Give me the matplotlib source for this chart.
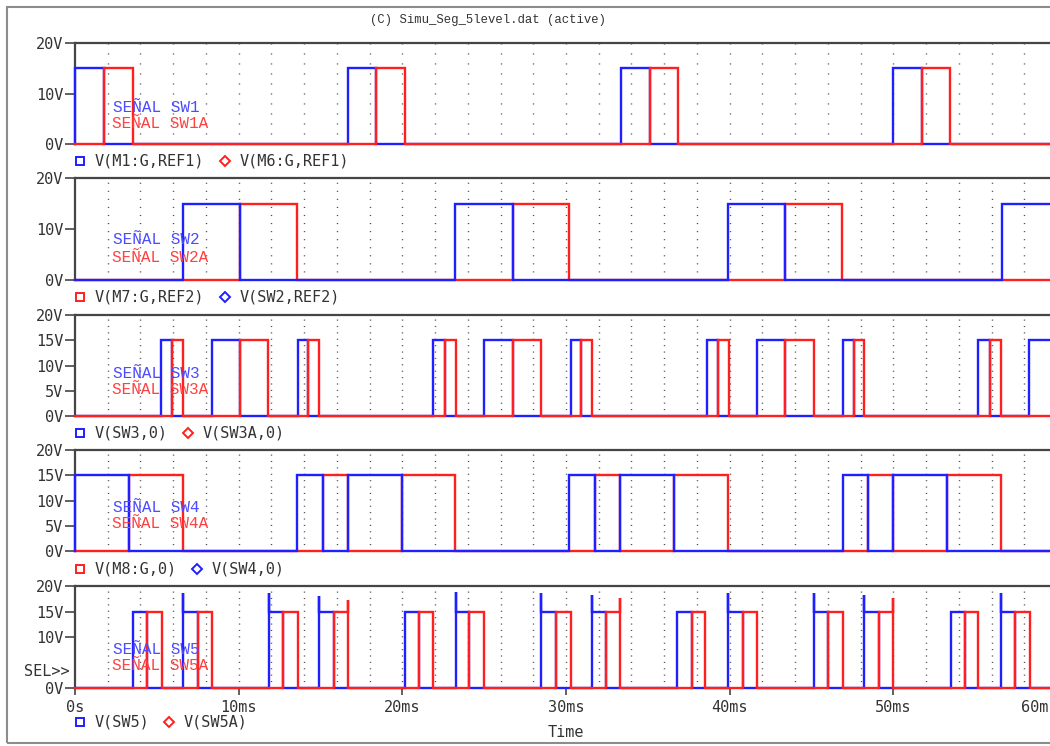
import numpy as np
import matplotlib
matplotlib.use("Agg")
import matplotlib.pyplot as plt
from matplotlib.lines import Line2D
from matplotlib.patches import Rectangle

plt.rcParams['font.family'] = ['DejaVu Sans Mono']

# ---------------- data (time in ms, levels in V) ----------------
T_END = 60.0
TITLE = "(C) Simu_Seg_5level.dat (active)"

# Panel 1: gate signals SW1 (blue) / SW1A (red)
sw1_on = [(0.0, 1.77), (16.68, 18.39), (33.35, 35.12), (49.97, 51.74)]
sw1a_on = [(1.77, 3.54), (18.39, 20.16), (35.12, 36.84), (51.74, 53.45)]

# Panel 2: SW2 (blue) / SW2A (red)
sw2_on = [(6.60, 10.08), (23.21, 26.76), (39.89, 43.37), (56.63, 60.0)]
sw2a_on = [(10.08, 13.56), (26.76, 30.18), (43.37, 46.85)]

# Panel 3: SW3 (blue) / SW3A (red)
sw3_on = [(5.25, 5.95), (8.35, 10.08), (13.60, 14.25), (21.90, 22.60),
          (25.00, 26.75), (30.30, 30.90), (38.60, 39.30), (41.70, 43.40),
          (46.90, 47.60), (55.20, 55.90), (58.30, 60.0)]
sw3a_on = [(5.95, 6.60), (10.08, 11.80), (14.25, 14.90), (22.60, 23.30),
           (26.75, 28.50), (30.90, 31.60), (39.30, 39.95), (43.40, 45.15),
           (47.60, 48.20), (55.90, 56.60)]

# Panel 4: SW4 (blue) / SW4A (red)
sw4_on = [(0.0, 3.30), (13.56, 15.15), (16.70, 19.97), (30.20, 31.80),
          (33.30, 36.60), (46.90, 48.45), (50.00, 53.30)]
sw4a_on = [(3.30, 6.60), (15.15, 16.70), (19.97, 23.20), (31.80, 33.30),
           (36.60, 39.90), (48.45, 50.00), (53.30, 56.60)]

# Panel 5: SW5 (blue, overshoot on rising edge) / SW5A (red, overshoot on falling edge)
sw5_on = [(3.53, 4.38), (6.60, 7.50), (11.83, 12.70), (14.90, 15.80),
          (20.15, 21.00), (23.30, 24.10), (28.50, 29.40), (31.60, 32.45),
          (36.80, 37.70), (39.90, 40.80), (45.15, 46.00), (48.20, 49.10),
          (53.50, 54.40), (56.60, 57.45)]
sw5_peak = [None, 18.6, 18.6, 18.0, None, 18.9, 18.7, 18.2,
            None, 18.7, 18.7, 18.2, None, 18.7]
sw5a_on = [(4.38, 5.30), (7.50, 8.37), (12.70, 13.60), (15.80, 16.70),
           (21.00, 21.90), (24.10, 25.00), (29.40, 30.30), (32.45, 33.30),
           (37.70, 38.50), (40.80, 41.70), (46.00, 46.90), (49.10, 50.00),
           (54.40, 55.20), (57.45, 58.35)]
sw5a_peak = [None, None, None, 17.3, None, None, None, 17.6,
             None, None, None, 17.6, None, None]

HIGH = 15.0

panel_labels = [("SEÑAL SW1", "SEÑAL SW1A"), ("SEÑAL SW2", "SEÑAL SW2A"),
                ("SEÑAL SW3", "SEÑAL SW3A"), ("SEÑAL SW4", "SEÑAL SW4A"),
                ("SEÑAL SW5", "SEÑAL SW5A")]
legend_names = [("V(M1:G,REF1)", "V(M6:G,REF1)"), ("V(M7:G,REF2)", "V(SW2,REF2)"),
                ("V(SW3,0)", "V(SW3A,0)"), ("V(M8:G,0)", "V(SW4,0)"),
                ("V(SW5)", "V(SW5A)")]
y_ticks = [[0, 10, 20], [0, 10, 20], [0, 5, 10, 15, 20], [0, 5, 10, 15, 20],
           [0, 10, 15, 20]]
x_ticks = [0, 10, 20, 30, 40, 50, 60]
x_ticklabels = ["0s", "10ms", "20ms", "30ms", "40ms", "50ms", "60ms"]

BLUE = "#1f1fff"
RED = "#ff1f1f"
BLUE_TXT = "#4b4bff"
RED_TXT = "#ff4040"


def waveform(on, level, t_end, rise_peak=None, fall_peak=None):
    """Build a step waveform from on-intervals, with optional edge overshoot."""
    t, v = [0.0], [0.0]
    for i, (a, b) in enumerate(on):
        t += [a]; v += [0.0]
        if rise_peak is not None and rise_peak[i] is not None:
            t += [a]; v += [rise_peak[i]]
        t += [a, b]; v += [level, level]
        if fall_peak is not None and fall_peak[i] is not None:
            t += [b]; v += [fall_peak[i]]
        t += [b]; v += [0.0]
    t += [t_end]; v += [0.0]
    return np.array(t), np.array(v)


# (first legend entry, second legend entry); the second is drawn on top
panels = [
    ((waveform(sw1_on, HIGH, T_END), BLUE, 's'), (waveform(sw1a_on, HIGH, T_END), RED, 'D')),
    ((waveform(sw2a_on, HIGH, T_END), RED, 's'), (waveform(sw2_on, HIGH, T_END), BLUE, 'D')),
    ((waveform(sw3_on, HIGH, T_END), BLUE, 's'), (waveform(sw3a_on, HIGH, T_END), RED, 'D')),
    ((waveform(sw4a_on, HIGH, T_END), RED, 's'), (waveform(sw4_on, HIGH, T_END), BLUE, 'D')),
    ((waveform(sw5_on, HIGH, T_END, rise_peak=sw5_peak), BLUE, 's'),
     (waveform(sw5a_on, HIGH, T_END, fall_peak=sw5a_peak), RED, 'D')),
]

# ---------------- layout (pixel geometry of a 1050x746 canvas) ----------------
W, H = 1050, 746
fig = plt.figure(figsize=(W / 100, H / 100), dpi=100)
fig.patch.set_facecolor("white")


def fx(px):
    return px / W


def fy(py):
    return 1 - py / H


panel_px = [(43, 144), (178, 280), (315, 416), (450, 551), (586, 688)]
legend_py = [161, 297, 433, 569, 722]
label_py = [(107, 124), (240, 257), (374, 390), (508, 524), (649, 666)]
dot_styles = [(0, (0.8, 6.4)), (0, (0.8, 5.0)), (0, (0.8, 3.8)), (0, (0.8, 3.8)),
              (0, (0.8, 3.8))]
X0, X1 = 75, 1057
SPINE = "#454545"

for k, ((top, bot), panel) in enumerate(zip(panel_px, panels)):
    ax = fig.add_axes([fx(X0), fy(bot), fx(X1) - fx(X0), (bot - top) / H])
    ax.set_xlim(0, T_END)
    ax.set_ylim(0, 20)
    for s in ("right", "bottom"):
        ax.spines[s].set_visible(False)
    for s in ("left", "top"):
        ax.spines[s].set_color(SPINE)
        ax.spines[s].set_linewidth(1.6)

    for g in np.arange(2, T_END, 2):
        ax.axvline(g, color="#505050", lw=1.0, ls=dot_styles[k], zorder=1)

    for (t, v), col, _ in panel:
        ax.plot(t, v, color=col, lw=1.7, zorder=3, clip_on=False,
                solid_joinstyle="miter")

    ax.set_yticks(y_ticks[k])
    ax.set_yticklabels([f"{y}V" for y in y_ticks[k]])
    ax.tick_params(axis="y", direction="out", length=7, width=1.2, color=SPINE,
                   pad=1.5, labelsize=11, labelcolor="#333333")

    if k < 4:
        ax.set_xticks([])
    else:
        ax.set_xticks(x_ticks)
        ax.set_xticklabels(x_ticklabels)
        ax.tick_params(axis="x", direction="out", length=5, width=1.2, color=SPINE,
                       pad=4, labelsize=11, labelcolor="#333333")
        # the last label sits against the window edge
        ax.get_xticklabels()[-1].set_ha("right")
        ax.set_xlabel("Time", fontsize=11, color="#333333", labelpad=7)
        fig.text(fx(70), fy(671), "SEL>>", ha="right", va="center",
                 fontsize=11, color="#333333")

    # trace annotations
    l1, l2 = panel_labels[k]
    fig.text(fx(113), fy(label_py[k][0]), l1, family="Liberation Mono",
             fontsize=11.5, color=BLUE_TXT, va="center", ha="left", zorder=5)
    fig.text(fx(112), fy(label_py[k][1]), l2, family="Liberation Mono",
             fontsize=11.5, color=RED_TXT, va="center", ha="left", zorder=5)

    # legend row below the panel
    n1, n2 = legend_names[k]
    char_w = 9.33
    x_m1 = 80
    x_t1 = x_m1 + 15
    x_m2 = x_t1 + len(n1) * char_w + 18
    x_t2 = x_m2 + 15
    for xm, xt, name, (_, col, mk) in ((x_m1, x_t1, n1, panel[0]),
                                       (x_m2, x_t2, n2, panel[1])):
        fig.add_artist(Line2D([fx(xm)], [fy(legend_py[k])], marker=mk,
                              ms=5.5 if mk == 's' else 5, mfc="none", mec=col,
                              mew=1.4, transform=fig.transFigure))
        fig.text(fx(xt), fy(legend_py[k]), name, fontsize=11, color="#333333",
                 va="center", ha="left")

# window title and frame
fig.text(fx(488), fy(20), TITLE, family="Liberation Mono", fontsize=8.8,
         color="#333333", ha="center", va="center")
fig.add_artist(Rectangle((fx(7), fy(743)), fx(1100) - fx(7), (743 - 7) / H,
                         fill=False, ec="#8c8c8c", lw=1.5,
                         transform=fig.transFigure))

fig.savefig("out.png", dpi=100)
